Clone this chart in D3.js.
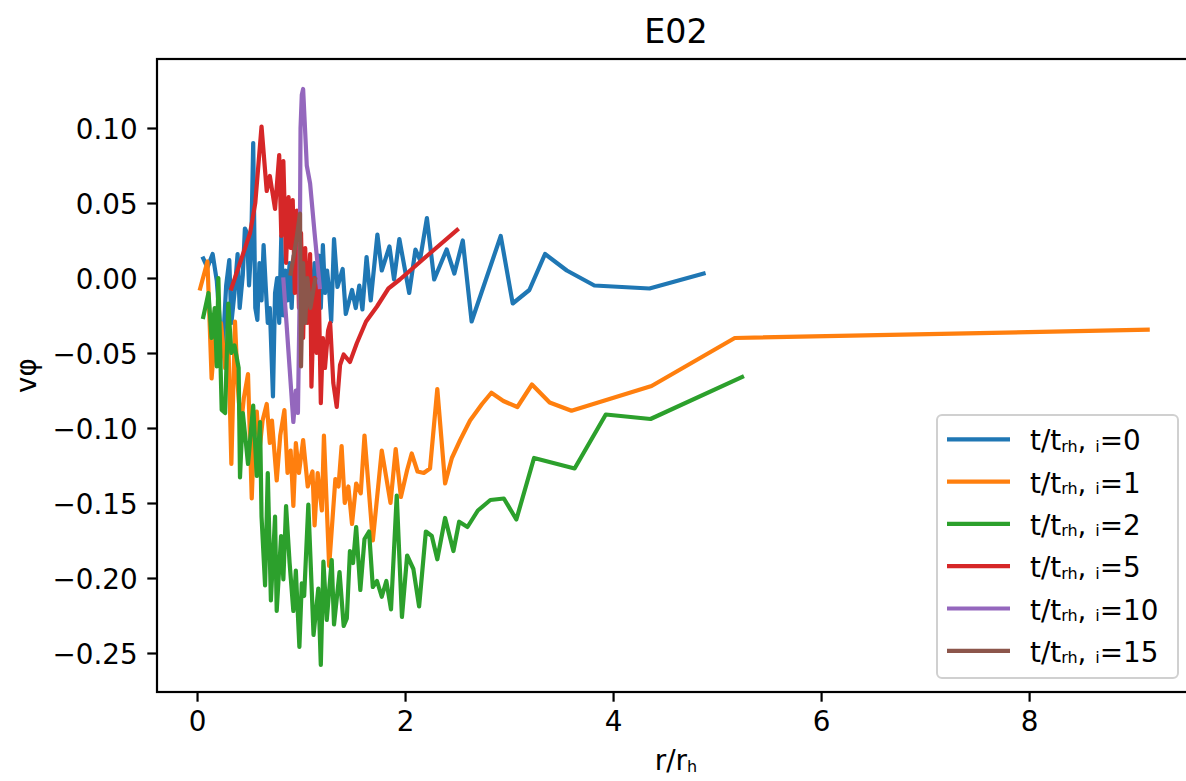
<!DOCTYPE html>
<html>
<head>
<meta charset="utf-8">
<script src="https://cdn.jsdelivr.net/npm/d3@7"></script>
<style>
  html, body { margin: 0; padding: 0; background: #fff; }
  svg { display: block; font-family: "DejaVu Sans", sans-serif; }
</style>
</head>
<body>
<svg id="chart" width="1186" height="781"></svg>
<script>
// Rotation velocity profiles vφ(r/rh) at several snapshots t/trh,i
const seriesLabels = ["0", "1", "2", "5", "10", "15"];
const seriesColors = ["#1f77b4", "#ff7f0e", "#2ca02c", "#d62728", "#9467bd", "#8c564b"];

const t0 = [[0.06,0.013],[0.10,0.007],[0.15,0.016],[0.19,-0.002],[0.22,-0.030],[0.25,-0.044],[0.28,-0.005],[0.31,0.012],[0.33,-0.030],[0.36,-0.010],[0.39,0.016],[0.41,-0.020],[0.44,0.002],[0.46,0.033],[0.48,0.030],[0.50,-0.005],[0.52,0.020],[0.54,0.090],[0.56,-0.020],[0.58,-0.028],[0.60,0.010],[0.62,-0.015],[0.64,0.022],[0.66,-0.005],[0.68,-0.030],[0.70,-0.020],[0.73,-0.079],[0.75,-0.010],[0.77,0.000],[0.79,-0.030],[0.81,0.028],[0.83,-0.025],[0.85,0.005],[0.87,-0.015],[0.89,0.010],[0.91,-0.020],[0.93,0.015],[0.95,-0.005],[0.97,0.000],[0.99,-0.020],[1.01,0.018],[1.03,-0.010],[1.05,0.008],[1.07,-0.025],[1.09,0.004],[1.11,-0.012],[1.13,0.010],[1.15,-0.005],[1.17,0.015],[1.19,-0.020],[1.21,0.022],[1.23,-0.010],[1.25,0.005],[1.27,-0.008],[1.29,-0.029],[1.317,0.026],[1.35,-0.006],[1.40,0.006],[1.43,-0.024],[1.49,-0.008],[1.526,-0.020],[1.56,-0.005],[1.59,-0.021],[1.63,0.014],[1.67,-0.015],[1.734,0.029],[1.776,0.005],[1.85,0.021],[1.894,-0.001],[1.945,0.026],[2.04,-0.010],[2.10,0.019],[2.144,0.012],[2.21,0.040],[2.28,-0.001],[2.40,0.019],[2.474,0.003],[2.555,0.025],[2.64,-0.029],[2.92,0.028],[3.035,-0.017],[3.195,-0.008],[3.346,0.016],[3.555,0.005],[3.82,-0.005],[4.35,-0.007],[4.87,0.003]];

const t1 = [[0.03,-0.007],[0.10,0.011],[0.14,-0.067],[0.17,-0.040],[0.20,-0.050],[0.23,-0.030],[0.27,-0.060],[0.30,-0.040],[0.33,-0.124],[0.365,-0.029],[0.39,-0.070],[0.42,-0.100],[0.45,-0.080],[0.49,-0.064],[0.526,-0.147],[0.55,-0.100],[0.574,-0.089],[0.60,-0.115],[0.63,-0.095],[0.67,-0.084],[0.70,-0.110],[0.72,-0.095],[0.766,-0.135],[0.80,-0.105],[0.84,-0.088],[0.87,-0.130],[0.90,-0.115],[0.926,-0.152],[0.95,-0.110],[0.98,-0.130],[1.02,-0.108],[1.064,-0.139],[1.11,-0.129],[1.13,-0.165],[1.16,-0.130],[1.20,-0.155],[1.22,-0.105],[1.27,-0.192],[1.33,-0.134],[1.36,-0.139],[1.39,-0.112],[1.42,-0.150],[1.455,-0.139],[1.49,-0.164],[1.53,-0.137],[1.574,-0.1435],[1.61,-0.105],[1.69,-0.175],[1.776,-0.115],[1.86,-0.150],[1.91,-0.114],[1.96,-0.146],[2.02,-0.128],[2.064,-0.117],[2.12,-0.129],[2.18,-0.130],[2.24,-0.127],[2.31,-0.074],[2.385,-0.137],[2.45,-0.120],[2.53,-0.108],[2.625,-0.095],[2.74,-0.084],[2.83,-0.0765],[2.945,-0.082],[3.08,-0.086],[3.22,-0.071],[3.39,-0.083],[3.60,-0.0885],[4.37,-0.072],[5.17,-0.040],[9.14,-0.0345]];

const t2 = [[0.06,-0.026],[0.11,-0.010],[0.14,-0.040],[0.17,-0.020],[0.19,-0.059],[0.205,0.000],[0.237,-0.088],[0.27,-0.090],[0.30,-0.017],[0.33,-0.050],[0.36,-0.045],[0.40,-0.060],[0.413,-0.133],[0.44,-0.090],[0.47,-0.110],[0.49,-0.124],[0.54,-0.085],[0.574,-0.132],[0.606,-0.096],[0.62,-0.159],[0.654,-0.205],[0.68,-0.130],[0.71,-0.215],[0.75,-0.159],[0.766,-0.222],[0.808,-0.172],[0.83,-0.201],[0.856,-0.152],[0.89,-0.190],[0.926,-0.222],[0.95,-0.195],[0.984,-0.246],[1.007,-0.2035],[1.03,-0.212],[1.07,-0.151],[1.12,-0.238],[1.166,-0.207],[1.19,-0.258],[1.215,-0.189],[1.247,-0.228],[1.295,-0.188],[1.317,-0.231],[1.37,-0.196],[1.41,-0.232],[1.44,-0.227],[1.47,-0.182],[1.50,-0.190],[1.53,-0.166],[1.57,-0.208],[1.61,-0.174],[1.654,-0.169],[1.69,-0.206],[1.73,-0.202],[1.776,-0.2125],[1.82,-0.202],[1.865,-0.221],[1.92,-0.145],[1.97,-0.226],[2.02,-0.185],[2.08,-0.194],[2.135,-0.219],[2.20,-0.169],[2.257,-0.172],[2.31,-0.1875],[2.385,-0.160],[2.465,-0.182],[2.52,-0.1625],[2.60,-0.166],[2.70,-0.155],[2.82,-0.148],[2.95,-0.147],[3.07,-0.161],[3.24,-0.120],[3.63,-0.127],[3.93,-0.091],[4.36,-0.094],[5.24,-0.066]];

const t5 = [[0.33,-0.007],[0.51,0.030],[0.56,0.050],[0.62,0.101],[0.67,0.058],[0.70,0.068],[0.75,0.046],[0.79,0.082],[0.81,0.028],[0.83,0.078],[0.856,0.010],[0.88,0.054],[0.90,0.020],[0.92,0.052],[0.94,-0.010],[0.96,0.045],[0.98,-0.020],[1.00,0.030],[1.02,-0.040],[1.04,0.020],[1.06,-0.030],[1.087,0.016],[1.10,-0.0725],[1.13,0.000],[1.15,-0.050],[1.17,-0.005],[1.19,-0.0835],[1.21,-0.040],[1.23,-0.060],[1.26,-0.035],[1.28,-0.030],[1.31,-0.070],[1.343,-0.086],[1.375,-0.058],[1.41,-0.051],[1.47,-0.056],[1.536,-0.0435],[1.625,-0.029],[1.73,-0.019],[1.84,-0.007],[1.95,-0.001],[2.24,0.0165],[2.50,0.032]];

const t10 = [[0.83,-0.001],[0.86,-0.030],[0.89,-0.060],[0.926,-0.096],[0.95,-0.075],[0.97,-0.090],[0.985,-0.020],[0.995,0.100],[1.007,0.122],[1.02,0.126],[1.055,0.075],[1.087,0.063],[1.13,0.030],[1.18,-0.006]];

const t15 = [[0.90,0.003],[0.93,0.015],[0.96,0.028],[0.99,0.043],[1.00,-0.059],[1.02,0.010],[1.04,-0.030],[1.06,0.000],[1.09,-0.020],[1.135,-0.001]];

const seriesData = [t0, t1, t2, t5, t10, t15];

const xTicks = [0, 2, 4, 6, 8];
const yTicks = [0.10, 0.05, 0.00, -0.05, -0.10, -0.15, -0.20, -0.25];
const xDomain = [-0.385, 9.595];
const yDomain = [-0.276, 0.146];

// ---- layout ----
const W = 1186, H = 781;
const plot = { left: 157, top: 59, right: 1195, bottom: 692 };
const tickFont = 27.8;
const labelFont = 27.8;
const titleFont = 33.3;
const subFont = 16;

const svg = d3.select("#chart");
const x = d3.scaleLinear().domain(xDomain).range([plot.left, plot.right]);
const y = d3.scaleLinear().domain(yDomain).range([plot.bottom, plot.top]);

const fmtY = v => d3.format(".2f")(v).replace("-", "\u2212");

// data lines
const line = d3.line().x(d => x(d[0])).y(d => y(d[1]));
svg.append("defs").append("clipPath").attr("id", "plotclip")
  .append("rect").attr("x", plot.left).attr("y", plot.top)
  .attr("width", plot.right - plot.left).attr("height", plot.bottom - plot.top);

const gLines = svg.append("g").attr("clip-path", "url(#plotclip)");
seriesData.forEach((s, i) => {
  gLines.append("path").datum(s)
    .attr("d", line)
    .attr("fill", "none")
    .attr("stroke", seriesColors[i])
    .attr("stroke-width", 4.2)
    .attr("stroke-linejoin", "round")
    .attr("stroke-linecap", "square");
});

// axes
const xAxis = d3.axisBottom(x).tickValues(xTicks).tickSize(9.7).tickPadding(10).tickFormat(d3.format("d"));
const yAxis = d3.axisLeft(y).tickValues(yTicks).tickSize(9.7).tickPadding(9.7).tickFormat(fmtY);

const gx = svg.append("g").attr("transform", `translate(0,${plot.bottom})`).call(xAxis);
const gy = svg.append("g").attr("transform", `translate(${plot.left},0)`).call(yAxis);
[gx, gy].forEach(g => {
  g.select(".domain").remove();
  g.selectAll(".tick line").attr("stroke", "#000").attr("stroke-width", 2.2);
  g.selectAll(".tick text").attr("fill", "#000").attr("font-size", tickFont)
    .attr("font-family", "DejaVu Sans, sans-serif");
});
gy.selectAll(".tick text").attr("dy", "0.36em");

// spines
const spine = svg.append("g").attr("fill", "none").attr("stroke", "#000").attr("stroke-width", 2.2);
spine.append("rect").attr("x", plot.left).attr("y", plot.top)
  .attr("width", plot.right - plot.left).attr("height", plot.bottom - plot.top);

// title and axis labels
const cx = (plot.left + plot.right) / 2;
svg.append("text").attr("x", cx).attr("y", 42.5).attr("text-anchor", "middle")
  .attr("font-size", titleFont).attr("fill", "#000").text("E02");

const xl = svg.append("text").attr("x", cx).attr("y", 770).attr("text-anchor", "middle")
  .attr("font-size", labelFont).attr("fill", "#000");
xl.append("tspan").text("r/r");
xl.append("tspan").attr("font-size", subFont).attr("dy", 2).text("h");

svg.append("text")
  .attr("transform", `translate(36,${(plot.top + plot.bottom) / 2}) rotate(-90)`)
  .attr("text-anchor", "middle").attr("font-size", labelFont).attr("fill", "#000")
  .text("vφ");

// legend
const leg = { x: 937, y: 415, w: 241, h: 263, row: 42.3, first: 439.3 };
svg.append("rect").attr("x", leg.x).attr("y", leg.y).attr("width", leg.w).attr("height", leg.h)
  .attr("rx", 5).attr("fill", "#fff").attr("fill-opacity", 0.8)
  .attr("stroke", "#d0d0d0").attr("stroke-width", 2);

seriesLabels.forEach((lab, i) => {
  const yy = leg.first + i * leg.row;
  svg.append("line").attr("x1", 947).attr("x2", 1010).attr("y1", yy).attr("y2", yy)
    .attr("stroke", seriesColors[i]).attr("stroke-width", 4.2);
  const t = svg.append("text").attr("x", 1030).attr("y", yy + 11)
    .attr("font-size", labelFont).attr("fill", "#000");
  t.append("tspan").text("t/t");
  t.append("tspan").attr("font-size", subFont).attr("dy", 1.5).text("rh");
  t.append("tspan").attr("dy", -1.5).text(", ");
  t.append("tspan").attr("font-size", subFont).attr("dy", 1.5).text("i");
  t.append("tspan").attr("dy", -1.5).text("=" + lab);
});
</script>
</body>
</html>
